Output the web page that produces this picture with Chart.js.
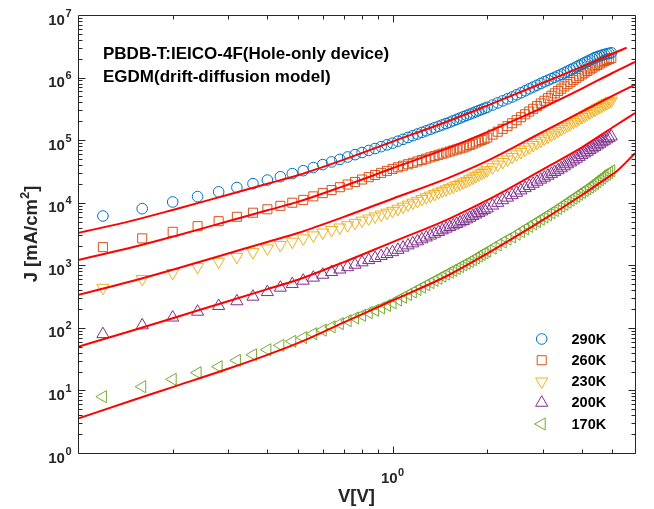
<!DOCTYPE html>
<html>
<head>
<meta charset="utf-8">
<script src="https://cdn.jsdelivr.net/npm/chart.js@4.4.0/dist/chart.umd.min.js"></script>
<style>
  html, body { margin: 0; padding: 0; background: #fff; }
  canvas { display: block; }
</style>
</head>
<body>
<canvas id="jv" width="654" height="509"></canvas>
<script>
// measured voltage grid (V)
const voltage = [
  0.12, 0.16, 0.20, 0.24, 0.28, 0.32, 0.36, 0.40, 0.44, 0.48, 0.52, 0.56, 0.60, 0.64, 0.68, 0.72, 0.76, 0.80, 0.84, 0.88, 0.92, 0.96, 1.00,
  1.04, 1.08, 1.12, 1.16, 1.20, 1.24, 1.28, 1.32, 1.36, 1.40, 1.44, 1.48, 1.52, 1.56, 1.60, 1.64, 1.68, 1.72, 1.76, 1.80, 1.84, 1.88, 1.92, 1.96, 2.00,
  2.08, 2.16, 2.24, 2.32, 2.40, 2.48, 2.56, 2.64, 2.72, 2.80, 2.88, 2.96, 3.04, 3.12, 3.20, 3.28, 3.36, 3.44, 3.52, 3.60, 3.68, 3.76, 3.84, 3.92,
  4.00, 4.08, 4.16, 4.24, 4.32, 4.40, 4.48, 4.56, 4.64, 4.72, 4.80, 4.88, 4.96
];

// measured current density, stored as log10(J) with J in mA/cm^2
const logJ290 = [
  3.788, 3.905, 4.012, 4.098, 4.173, 4.243, 4.305, 4.362, 4.415, 4.465, 4.512, 4.562, 4.609, 4.652, 4.693, 4.731, 4.768, 4.802, 4.835, 4.866, 4.896, 4.925, 4.952,
  4.983, 5.013, 5.043, 5.071, 5.098, 5.124, 5.149, 5.174, 5.198, 5.221, 5.243, 5.265, 5.287, 5.310, 5.332, 5.353, 5.374, 5.395, 5.415, 5.434, 5.453, 5.472, 5.490, 5.508, 5.526,
  5.561, 5.595, 5.628, 5.660, 5.690, 5.724, 5.756, 5.788, 5.819, 5.849, 5.878, 5.906, 5.933, 5.958, 5.982, 6.005, 6.028, 6.053, 6.077, 6.101, 6.125, 6.148, 6.171, 6.194,
  6.216, 6.238, 6.259, 6.280, 6.300, 6.320, 6.334, 6.348, 6.360, 6.370, 6.380, 6.388, 6.396
];
const logJ260 = [
  3.290, 3.430, 3.535, 3.625, 3.705, 3.775, 3.840, 3.895, 3.950, 4.000, 4.045, 4.101, 4.153, 4.202, 4.248, 4.291, 4.332, 4.371, 4.408, 4.443, 4.477, 4.509, 4.540,
  4.566, 4.591, 4.615, 4.638, 4.660, 4.682, 4.704, 4.725, 4.745, 4.765, 4.783, 4.801, 4.818, 4.835, 4.851, 4.867, 4.882, 4.901, 4.922, 4.943, 4.963, 4.983, 5.002, 5.021, 5.040,
  5.089, 5.135, 5.180, 5.224, 5.270, 5.319, 5.366, 5.413, 5.457, 5.501, 5.544, 5.587, 5.629, 5.670, 5.709, 5.748, 5.786, 5.823, 5.859, 5.895, 5.929, 5.963, 5.994, 6.023,
  6.051, 6.078, 6.105, 6.131, 6.157, 6.180, 6.202, 6.223, 6.244, 6.264, 6.280, 6.296, 6.312
];
const logJ230 = [
  2.640, 2.780, 2.877, 2.975, 3.057, 3.135, 3.210, 3.270, 3.325, 3.378, 3.430, 3.478, 3.523, 3.564, 3.604, 3.640, 3.678, 3.714, 3.748, 3.780, 3.811, 3.841, 3.870,
  3.904, 3.937, 3.969, 4.000, 4.030, 4.059, 4.087, 4.114, 4.140, 4.165, 4.190, 4.214, 4.237, 4.260, 4.282, 4.304, 4.325, 4.348, 4.375, 4.400, 4.425, 4.450, 4.474, 4.498, 4.521,
  4.566, 4.609, 4.650, 4.690, 4.731, 4.772, 4.811, 4.849, 4.886, 4.922, 4.957, 4.991, 5.025, 5.057, 5.088, 5.119, 5.149, 5.179, 5.208, 5.236, 5.264, 5.291, 5.318, 5.344,
  5.370, 5.395, 5.420, 5.444, 5.467, 5.489, 5.510, 5.531, 5.552, 5.572, 5.592, 5.611, 5.630
];
const logJ200 = [
  1.900, 2.040, 2.165, 2.258, 2.350, 2.425, 2.498, 2.572, 2.642, 2.700, 2.754, 2.803, 2.849, 2.892, 2.932, 2.970, 3.009, 3.047, 3.083, 3.116, 3.149, 3.180, 3.210,
  3.247, 3.283, 3.318, 3.351, 3.383, 3.415, 3.445, 3.475, 3.504, 3.532, 3.559, 3.586, 3.611, 3.637, 3.661, 3.685, 3.708, 3.734, 3.760, 3.786, 3.812, 3.837, 3.861, 3.885, 3.909,
  3.954, 3.998, 4.040, 4.081, 4.120, 4.159, 4.196, 4.233, 4.268, 4.303, 4.336, 4.369, 4.400, 4.431, 4.461, 4.490, 4.519, 4.550, 4.582, 4.614, 4.644, 4.674, 4.703, 4.732,
  4.760, 4.788, 4.814, 4.841, 4.867, 4.892, 4.917, 4.942, 4.966, 4.990, 5.013, 5.036, 5.059
];
const logJ170 = [
  0.900, 1.060, 1.178, 1.283, 1.379, 1.480, 1.570, 1.650, 1.720, 1.785, 1.845, 1.907, 1.964, 2.017, 2.068, 2.115, 2.160, 2.202, 2.243, 2.281, 2.319, 2.360, 2.400,
  2.446, 2.490, 2.532, 2.574, 2.613, 2.651, 2.688, 2.724, 2.759, 2.793, 2.826, 2.858, 2.889, 2.919, 2.949, 2.978, 3.006, 3.033, 3.060, 3.089, 3.118, 3.146, 3.173, 3.199, 3.225,
  3.276, 3.325, 3.372, 3.418, 3.453, 3.497, 3.540, 3.582, 3.622, 3.662, 3.700, 3.737, 3.773, 3.808, 3.842, 3.876, 3.909, 3.942, 3.975, 4.008, 4.041, 4.073, 4.103, 4.134,
  4.164, 4.193, 4.221, 4.250, 4.277, 4.307, 4.338, 4.368, 4.397, 4.426, 4.454, 4.482, 4.510
];

// EGDM model curves (log10 J)
const fitV290 = [0.1, 0.15, 0.2, 0.3, 0.4, 0.5, 0.7, 1, 1.5, 2, 3, 4, 5, 5.55];
const fitLog290 = [3.516, 3.718, 3.884, 4.128, 4.302, 4.438, 4.689, 4.977, 5.301, 5.551, 5.913, 6.176, 6.380, 6.478];
const fitV = [0.1, 0.15, 0.2, 0.3, 0.4, 0.5, 0.7, 1, 1.5, 2, 3, 4, 5, 5.9];
const fitLog260 = [3.085, 3.291, 3.457, 3.703, 3.879, 4.013, 4.266, 4.550, 4.873, 5.129, 5.519, 5.824, 6.073, 6.249];
const fitLog230 = [2.525, 2.752, 2.928, 3.188, 3.372, 3.516, 3.773, 4.064, 4.393, 4.668, 5.130, 5.456, 5.706, 5.886];
const fitLog200 = [1.699, 1.963, 2.153, 2.426, 2.619, 2.768, 3.051, 3.371, 3.735, 4.040, 4.529, 4.884, 5.202, 5.434];
const fitV170 = [0.1, 0.15, 0.2, 0.3, 0.4, 0.5, 0.7, 1, 1.5, 2, 3, 4, 5, 5.14, 5.9];
const fitLog170 = [0.551, 0.847, 1.053, 1.346, 1.569, 1.756, 2.087, 2.437, 2.837, 3.188, 3.721, 4.123, 4.454, 4.496, 4.790];

const temps = ['290K', '260K', '230K', '200K', '170K'];
const yTickExp = [0, 1, 2, 3, 4, 5, 6, 7];
const notes = ['PBDB-T:IEICO-4F(Hole-only device)', 'EGDM(drift-diffusion model)'];

const FONT = '"Liberation Sans", Arial, sans-serif';
const AXIS = '#262626';

const markers = [
  { color: '#0072BD', style: 'circle', radius: 5.3, rotation: 0 },
  { color: '#D95319', style: 'rect', radius: 6.4, rotation: 0 },
  { color: '#EDB120', style: 'triangle', radius: 7, rotation: 180 },
  { color: '#7E2F8E', style: 'triangle', radius: 7, rotation: 0 },
  { color: '#77AC30', style: 'triangle', radius: 7, rotation: -90 }
];

function toPoints(xs, logs) {
  return xs.map((v, i) => ({ x: v, y: Math.pow(10, logs[i]) }));
}

const measured = [logJ290, logJ260, logJ230, logJ200, logJ170];
const fits = [
  [fitV290, fitLog290], [fitV, fitLog260], [fitV, fitLog230], [fitV, fitLog200], [fitV170, fitLog170]
];

const datasets = [];
fits.forEach(([xs, ys]) => {
  datasets.push({
    data: toPoints(xs, ys),
    showLine: true,
    borderColor: '#FF0000',
    borderWidth: 2,
    pointRadius: 0,
    cubicInterpolationMode: 'monotone',
    order: 0
  });
});
measured.forEach((logs, i) => {
  const m = markers[i];
  datasets.push({
    label: temps[i],
    data: toPoints(voltage, logs),
    showLine: false,
    pointStyle: m.style,
    pointRadius: m.radius,
    pointRotation: m.rotation,
    pointBorderColor: m.color,
    pointBackgroundColor: 'rgba(0,0,0,0)',
    pointBorderWidth: 1,
    order: 1
  });
});

function supText(ctx, base, exp, x, baseY, expY, baseFont, expFont, align) {
  ctx.font = baseFont;
  const wb = ctx.measureText(base).width;
  ctx.font = expFont;
  const we = ctx.measureText(exp).width;
  let left = x;
  if (align === 'right') left = x - wb - we - 0.5;
  if (align === 'center') left = x - (wb + we + 0.5) / 2;
  ctx.textAlign = 'left';
  ctx.textBaseline = 'alphabetic';
  ctx.font = baseFont;
  ctx.fillText(base, left, baseY);
  ctx.font = expFont;
  ctx.fillText(exp, left + wb + 0.5, expY);
}

const frame = {
  id: 'frame',
  afterDraw(chart) {
    const { ctx, chartArea: a, scales } = chart;
    const xs = scales.x, ys = scales.y;
    ctx.save();
    ctx.strokeStyle = AXIS;
    ctx.fillStyle = AXIS;
    ctx.lineWidth = 1;

    const L = Math.round(a.left) + 0.5, R = Math.round(a.right) + 0.5;
    const T = Math.round(a.top) + 0.5, B = Math.round(a.bottom) + 0.5;
    ctx.beginPath();
    ctx.rect(L, T, R - L, B - T);

    // y ticks, both sides
    for (let e = 0; e < 7; e++) {
      for (let k = 1; k <= 9; k++) {
        const py = Math.round(ys.getPixelForValue(k * Math.pow(10, e))) + 0.5;
        const len = k === 1 ? 7 : 4;
        ctx.moveTo(L, py); ctx.lineTo(L + len, py);
        ctx.moveTo(R, py); ctx.lineTo(R - len, py);
      }
    }
    // x ticks, both sides
    const xt = [0.2, 0.3, 0.4, 0.5, 0.6, 0.7, 0.8, 0.9, 1, 2, 3, 4, 5];
    xt.forEach(v => {
      const px = Math.round(xs.getPixelForValue(v)) + 0.5;
      const len = v === 1 ? 7 : 4;
      ctx.moveTo(px, B); ctx.lineTo(px, B - len);
      ctx.moveTo(px, T); ctx.lineTo(px, T + len);
    });
    ctx.stroke();

    // tick labels
    const bf = 'bold 15px ' + FONT, ef = 'bold 11px ' + FONT;
    yTickExp.forEach(e => {
      const py = ys.getPixelForValue(Math.pow(10, e));
      supText(ctx, '10', String(e), 71.5, py + 9.5, py + 1.5, bf, ef, 'right');
    });
    const p1 = xs.getPixelForValue(1);
    supText(ctx, '10', '0', p1, 483, 475.5, bf, ef, 'center');

    // axis titles
    ctx.font = 'bold 18.5px ' + FONT;
    ctx.textAlign = 'center';
    ctx.textBaseline = 'alphabetic';
    ctx.fillText('V[V]', (a.left + a.right) / 2, 502);

    ctx.save();
    ctx.translate(37, (a.top + a.bottom) / 2);
    ctx.rotate(-Math.PI / 2);
    const lf = 'bold 18.5px ' + FONT, sf = 'bold 13px ' + FONT;
    ctx.font = lf;
    const w1 = ctx.measureText('J [mA/cm').width;
    const w3 = ctx.measureText(']').width;
    ctx.font = sf;
    const w2 = ctx.measureText('2').width;
    let sx = -(w1 + w2 + w3) / 2;
    ctx.textAlign = 'left';
    ctx.font = lf;
    ctx.fillText('J [mA/cm', sx, 0);
    ctx.font = sf;
    ctx.fillText('2', sx + w1, -8);
    ctx.font = lf;
    ctx.fillText(']', sx + w1 + w2, 0);
    ctx.restore();

    // annotation
    ctx.fillStyle = '#000';
    ctx.font = 'bold 17px ' + FONT;
    ctx.textAlign = 'left';
    ctx.fillText(notes[0], 103, 59);
    ctx.fillText(notes[1], 103, 82);

    // legend
    ctx.font = 'bold 14.5px ' + FONT;
    ctx.textBaseline = 'middle';
    temps.forEach((t, i) => {
      const ry = 339 + i * 21.25;
      const m = markers[i];
      ctx.strokeStyle = m.color;
      ctx.fillStyle = 'rgba(0,0,0,0)';
      ctx.lineWidth = 1;
      Chart.helpers.drawPoint(ctx, { pointStyle: m.style, radius: m.radius, rotation: m.rotation, borderWidth: 1 }, 541.7, ry);
      ctx.fillStyle = '#000';
      ctx.fillText(t, 571.5, ry + 0.5);
    });
    ctx.restore();
  }
};

new Chart(document.getElementById('jv'), {
  type: 'scatter',
  data: { datasets },
  options: {
    responsive: false,
    animation: false,
    devicePixelRatio: 1,
    layout: { padding: { top: 15, right: 19, left: 0, bottom: 0 } },
    plugins: { legend: { display: false }, tooltip: { enabled: false } },
    scales: {
      x: {
        type: 'logarithmic',
        min: 0.1,
        max: 5.9,
        grid: { display: false },
        border: { display: false },
        ticks: { display: false },
        afterFit(s) { s.height = 56; }
      },
      y: {
        type: 'logarithmic',
        min: 1,
        max: 1e7,
        grid: { display: false },
        border: { display: false },
        ticks: { display: false },
        afterFit(s) { s.width = 78; }
      }
    }
  },
  plugins: [frame]
});
</script>
</body>
</html>
